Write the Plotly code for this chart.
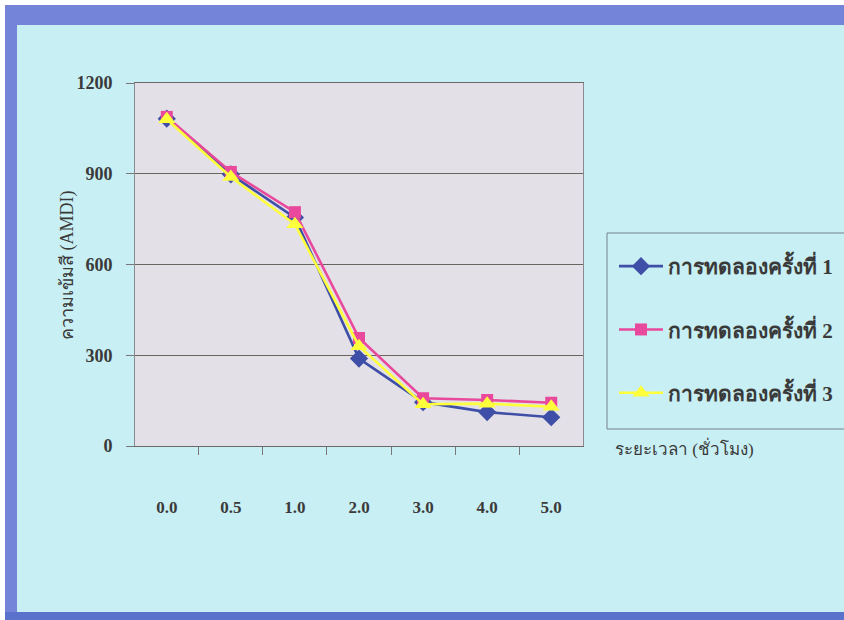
import plotly.graph_objects as go

# Sampling times (hours) and colour intensity readings for three trials
times = ["0.0", "0.5", "1.0", "2.0", "3.0", "4.0", "5.0"]
trial_1 = [1082, 898, 755, 289, 145, 112, 95]
trial_2 = [1088, 906, 773, 357, 158, 152, 143]
trial_3 = [1080, 889, 733, 330, 138, 140, 130]
trial_names = ["การทดลองครั้งที่ 1", "การทดลองครั้งที่ 2", "การทดลองครั้งที่ 3"]
y_ticks = [0, 300, 600, 900, 1200]

W, H = 844, 620
ML, MR, MT, MB = 135, 261, 83, 174
PW, PH = W - ML - MR, H - MT - MB


def px(x):
    return (x - ML) / PW


def py(y):
    return (H - MB - y) / PH


SERIF = "Liberation Serif, Times New Roman, serif"
TXT = "#3a3a3a"
BLUE_BAND = "#7484d8"

fig = go.Figure()

styles = [
    dict(color="#3f4ea6", symbol="diamond", size=14),
    dict(color="#e8499c", symbol="square", size=12),
    dict(color="#ffff3c", symbol="triangle-up", size=15),
]
for name, vals, st in zip(trial_names, [trial_1, trial_2, trial_3], styles):
    fig.add_trace(go.Scatter(
        x=times, y=vals, name=name, mode="lines+markers",
        legendgroup=name,
        line=dict(color=st["color"], width=2.6),
        marker=dict(color=st["color"], symbol=st["symbol"], size=st["size"]),
    ))

shapes = [
    # white scan edge
    dict(x0=px(0), x1=px(W), y0=py(0), y1=py(5), fillcolor="white"),
    dict(x0=px(0), x1=px(5), y0=py(0), y1=py(H), fillcolor="white"),
    # blue frame
    dict(x0=px(5), x1=px(W), y0=py(5), y1=py(25), fillcolor=BLUE_BAND),
    dict(x0=px(5), x1=px(17), y0=py(5), y1=py(H), fillcolor=BLUE_BAND),
    dict(x0=px(5), x1=px(W), y0=py(612), y1=py(H), fillcolor="#5a72cc"),
]
for s in shapes:
    s.update(type="rect", xref="paper", yref="paper", line=dict(width=0), layer="below")
# legend frame
shapes.append(dict(type="rect", xref="paper", yref="paper",
                   x0=px(607), x1=px(W + 20), y0=py(233), y1=py(429),
                   line=dict(color="#77808a", width=1), fillcolor="rgba(0,0,0,0)",
                   layer="above"))
fig.update_layout(shapes=shapes)

fig.add_annotation(
    text="ความเข้มสี (AMDI)", textangle=-90, showarrow=False,
    xref="paper", yref="paper", x=px(67), y=py(265),
    xanchor="center", yanchor="middle",
    font=dict(family=SERIF, size=18, color=TXT),
)
fig.add_annotation(
    text="ระยะเวลา (ชั่วโมง)", showarrow=False,
    xref="paper", yref="paper", x=px(613), y=py(448),
    xanchor="left", yanchor="middle",
    font=dict(family=SERIF, size=17, color=TXT),
)

fig.update_layout(
    width=W, height=H,
    margin=dict(l=ML, r=MR, t=MT, b=MB, autoexpand=False),
    paper_bgcolor="#c8eff3",
    plot_bgcolor="#e3e0e7",
    showlegend=True,
    legend=dict(
        x=px(614), y=py(246), xanchor="left", yanchor="top",
        bgcolor="rgba(0,0,0,0)", borderwidth=0,
        font=dict(family=SERIF, size=21, color=TXT, weight=700),
        tracegroupgap=33, itemwidth=44,
    ),
    xaxis=dict(
        type="category", categoryorder="array", categoryarray=times,
        tickson="boundaries", ticks="outside", ticklen=8, tickcolor="#777",
        showgrid=False, showline=True, linecolor="#6d6868", linewidth=1.2,
        mirror=True, ticklabelstandoff=45,
        tickfont=dict(family=SERIF, size=17, color=TXT, weight=700),
        zeroline=False,
    ),
    yaxis=dict(
        range=[0, 1200], tickvals=y_ticks, ticks="outside", ticklen=8,
        tickcolor="#777", showgrid=True, gridcolor="#6b6560", gridwidth=1,
        showline=True, linecolor="#8a8a92", mirror=True, zeroline=False,
        ticklabelstandoff=10,
        tickfont=dict(family=SERIF, size=18, color=TXT, weight=700),
    ),
)

fig.write_html("out.html")
